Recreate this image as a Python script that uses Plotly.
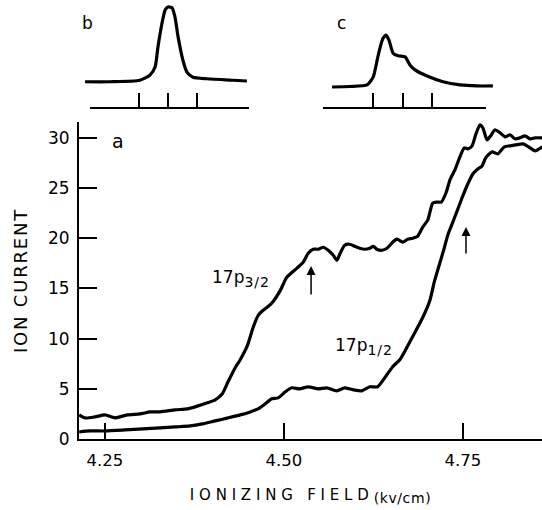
import plotly.graph_objects as go

# ---------------- Panel a: ion current vs ionizing field ----------------
field_p32 = [4.214, 4.222, 4.236, 4.250, 4.264, 4.281, 4.299, 4.313, 4.327, 4.348,
             4.365, 4.376, 4.393, 4.404, 4.414, 4.422, 4.432, 4.439, 4.449, 4.457,
             4.464, 4.469, 4.478, 4.485, 4.495, 4.504, 4.518, 4.527, 4.534, 4.541,
             4.548, 4.555, 4.562, 4.569, 4.574, 4.578, 4.585, 4.592, 4.599, 4.606,
             4.613, 4.620, 4.625, 4.630, 4.637, 4.644, 4.652, 4.658, 4.666, 4.673,
             4.680, 4.687, 4.694, 4.701, 4.708, 4.714, 4.720, 4.727, 4.732, 4.739,
             4.746, 4.752, 4.757, 4.763, 4.768, 4.774, 4.778, 4.784, 4.789, 4.795,
             4.802, 4.809, 4.816, 4.823, 4.830, 4.837, 4.844, 4.851, 4.861]
current_p32 = [2.4, 2.1, 2.2, 2.4, 2.1, 2.4, 2.5, 2.7, 2.7, 2.9,
               3.0, 3.2, 3.6, 3.9, 4.5, 5.7, 7.1, 7.9, 9.3, 11.1,
               12.3, 12.7, 13.2, 13.7, 14.8, 16.1, 17.0, 17.6, 18.5, 18.9,
               18.9, 19.1, 18.8, 18.3, 17.8, 18.4, 19.3, 19.4, 19.2, 19.0,
               18.9, 19.0, 19.2, 18.9, 18.8, 19.0, 19.6, 19.9, 19.6, 19.9,
               20.0, 20.2, 21.1, 21.8, 23.5, 23.6, 23.6, 24.6, 25.8, 26.8,
               28.1, 29.0, 28.9, 29.2, 30.3, 31.3, 31.0, 29.8, 30.2, 30.8,
               30.5, 30.1, 30.3, 29.9, 30.0, 30.2, 29.9, 30.0, 30.0]

field_p12 = [4.214, 4.229, 4.250, 4.278, 4.303, 4.327, 4.348, 4.369, 4.386, 4.404,
             4.422, 4.439, 4.453, 4.464, 4.474, 4.483, 4.492, 4.502, 4.511, 4.522,
             4.534, 4.548, 4.560, 4.574, 4.585, 4.597, 4.609, 4.620, 4.631, 4.641,
             4.652, 4.662, 4.671, 4.680, 4.694, 4.704, 4.710, 4.717, 4.724, 4.729,
             4.735, 4.742, 4.750, 4.757, 4.764, 4.771, 4.777, 4.782, 4.791, 4.799,
             4.808, 4.816, 4.824, 4.834, 4.842, 4.851, 4.861]
current_p12 = [0.7, 0.8, 0.8, 0.9, 1.0, 1.1, 1.2, 1.3, 1.5, 1.8,
               2.1, 2.4, 2.7, 3.0, 3.5, 4.0, 4.1, 4.7, 5.1, 5.0,
               5.2, 5.0, 5.1, 4.8, 5.1, 4.9, 4.8, 5.2, 5.2, 6.1,
               7.2, 7.9, 9.0, 10.2, 12.1, 13.8, 15.6, 17.3, 19.0, 20.3,
               21.4, 22.7, 24.2, 25.4, 26.4, 26.9, 27.2, 28.0, 28.6, 28.4,
               29.1, 29.2, 29.3, 29.4, 29.1, 28.7, 29.1]

x_tick_vals = [4.25, 4.50, 4.75]
x_tick_text = ["4.25", "4.50", "4.75"]
y_tick_vals = [0, 5, 10, 15, 20, 25, 30]
y_tick_text = ["0", "5", "10", "15", "20", "25", "30"]

# arrows marking thresholds (x, tail, head)
arrow_field = [4.538, 4.7545]
arrow_tail = [14.24, 18.33]
arrow_head = [17.23, 21.12]

# ---------------- Insets b and c (relative units) ----------------
b_offset = [-2.89, -2.02, -0.98, -0.63, -0.45, -0.35, -0.21, -0.10, 0.0, 0.14,
            0.24, 0.35, 0.52, 0.66, 0.87, 1.36, 2.27, 2.75]
b_signal = [-0.01, -0.01, 0.01, 0.08, 0.19, 0.46, 0.78, 0.96, 1.0, 0.99,
            0.87, 0.60, 0.28, 0.12, 0.05, 0.03, 0.01, 0.0]
c_offset = [-2.40, -1.79, -1.21, -1.00, -0.84, -0.73, -0.66, -0.56, -0.46, -0.32,
            -0.15, 0.09, 0.26, 0.43, 0.84, 1.38, 1.96, 2.54, 3.08]
c_signal = [0.0, 0.01, 0.04, 0.19, 0.58, 0.83, 0.94, 1.0, 0.90, 0.65,
            0.60, 0.58, 0.42, 0.33, 0.21, 0.10, 0.04, 0.02, 0.02]
ruler_ticks = [-1, 0, 1]

# ---------------- layout helpers ----------------
W, H = 542, 510
ML, MR, MT, MB = 79, 0, 0, 71
PW, PH = W - ML - MR, H - MT - MB


def px_x(p):
    return (p - ML) / PW


def px_y(p):
    return (H - MB - p) / PH


FONT = "DejaVu Sans"
BLACK = "#000000"

fig = go.Figure()

line_main = dict(color=BLACK, width=3.2, shape="spline", smoothing=0.6)
fig.add_trace(go.Scatter(x=field_p32, y=current_p32, mode="lines", line=line_main,
                         name="17p3/2", hoverinfo="skip"))
fig.add_trace(go.Scatter(x=field_p12, y=current_p12, mode="lines", line=line_main,
                         name="17p1/2", hoverinfo="skip"))

# inset b
fig.add_trace(go.Scatter(x=[], y=[], xaxis="x2", yaxis="y2", showlegend=False))
fig.add_trace(go.Scatter(x=b_offset, y=b_signal, xaxis="x3", yaxis="y2", mode="lines",
                         line=line_main, hoverinfo="skip"))
# inset c
fig.add_trace(go.Scatter(x=[], y=[], xaxis="x4", yaxis="y3", showlegend=False))
fig.add_trace(go.Scatter(x=c_offset, y=c_signal, xaxis="x5", yaxis="y3", mode="lines",
                         line=line_main, hoverinfo="skip"))

xtitle = ('<span style="letter-spacing:4.8px">IONIZING FIELD</span>'
          '<sub><span style="font-size:14px;letter-spacing:0.6px">(kv/cm)</span></sub>')
ytitle = '<span style="letter-spacing:1.8px">ION CURRENT</span>'

ruler = dict(showline=True, linecolor=BLACK, linewidth=1.5, ticks="inside", ticklen=14,
             tickwidth=1.5, tickcolor=BLACK, tickmode="array", tickvals=ruler_ticks,
             showticklabels=False, showgrid=False, zeroline=False, fixedrange=True)
hidden = dict(visible=False, fixedrange=True)

b_c, b_s = 168.0, 28.7
c_c, c_s = 402.5, 29.35
inset_y = [px_y(107), px_y(5)]

fig.update_layout(
    width=W, height=H,
    margin=dict(l=ML, r=MR, t=MT, b=MB, pad=0),
    paper_bgcolor="white", plot_bgcolor="rgba(0,0,0,0)",
    showlegend=False,
    font=dict(family=FONT, color=BLACK, size=16),
    xaxis=dict(domain=[0, 1], range=[4.2137, 4.8607], anchor="y",
               showline=True, linecolor=BLACK, linewidth=2,
               ticks="inside", ticklen=16, tickwidth=1.5, tickcolor=BLACK,
               tickvals=x_tick_vals, ticktext=x_tick_text, ticklabelstandoff=5,
               tickfont=dict(size=16.5, family=FONT, color=BLACK),
               showgrid=False, zeroline=False,
               title=dict(text=xtitle, font=dict(size=15, family=FONT, color=BLACK),
                          standoff=21)),
    yaxis=dict(domain=[0, px_y(122)], range=[0, (H - MB - 122) / 10.04], anchor="x",
               showline=True, linecolor=BLACK, linewidth=2,
               ticks="inside", ticklen=18, tickwidth=1.5, tickcolor=BLACK,
               tickvals=y_tick_vals, ticktext=y_tick_text, ticklabelstandoff=4,
               tickfont=dict(size=17, family=FONT, color=BLACK),
               showgrid=False, zeroline=False,
               title=dict(text=ytitle, font=dict(size=18, family=FONT, color=BLACK),
                          standoff=16)),
    xaxis2=dict(domain=[px_x(90), px_x(249)], anchor="y2",
                range=[(90 - b_c) / b_s, (249 - b_c) / b_s], **ruler),
    xaxis3=dict(domain=[px_x(85), px_x(247)], anchor="y2",
                range=[(85 - b_c) / b_s, (247 - b_c) / b_s], **hidden),
    yaxis2=dict(domain=inset_y, anchor="x2", range=[(81 - 107) / 74, (81 - 5) / 74], **hidden),
    xaxis4=dict(domain=[px_x(323), px_x(486)], anchor="y3",
                range=[(323 - c_c) / c_s, (486 - c_c) / c_s], **ruler),
    xaxis5=dict(domain=[px_x(331), px_x(494)], anchor="y3",
                range=[(331 - c_c) / c_s, (494 - c_c) / c_s], **hidden),
    yaxis3=dict(domain=inset_y, anchor="x4", range=[(87 - 107) / 52, (87 - 5) / 52], **hidden),
)

annotations = [
    dict(text="a", x=4.268, y=29.7, xref="x", yref="y", showarrow=False,
         xanchor="center", yanchor="middle",
         font=dict(size=19, family=FONT, color=BLACK)),
    dict(text="b", x=px_x(87.5), y=px_y(23), xref="paper", yref="paper", showarrow=False,
         xanchor="center", yanchor="middle",
         font=dict(size=17, family=FONT, color=BLACK)),
    dict(text="c", x=px_x(341), y=px_y(23), xref="paper", yref="paper", showarrow=False,
         xanchor="center", yanchor="middle",
         font=dict(size=17, family=FONT, color=BLACK)),
    dict(text='17p<sub><span style="font-size:14px;letter-spacing:1px">3/2</span></sub>',
         x=4.3967, y=16.0, xref="x", yref="y", xanchor="left", yanchor="middle",
         showarrow=False, font=dict(size=17, family=FONT, color=BLACK)),
    dict(text='17p<sub><span style="font-size:14px;letter-spacing:1px">1/2</span></sub>',
         x=4.5686, y=9.26, xref="x", yref="y", xanchor="left", yanchor="middle",
         showarrow=False, font=dict(size=17, family=FONT, color=BLACK)),
]
for xa, yt, yh in zip(arrow_field, arrow_tail, arrow_head):
    annotations.append(dict(text="", x=xa, y=yh, ax=xa, ay=yt, xref="x", yref="y",
                            axref="x", ayref="y", showarrow=True, arrowhead=2,
                            arrowsize=1.2, arrowwidth=1.5, arrowcolor=BLACK))
fig.update_layout(annotations=annotations)

fig.write_html("out.html")
